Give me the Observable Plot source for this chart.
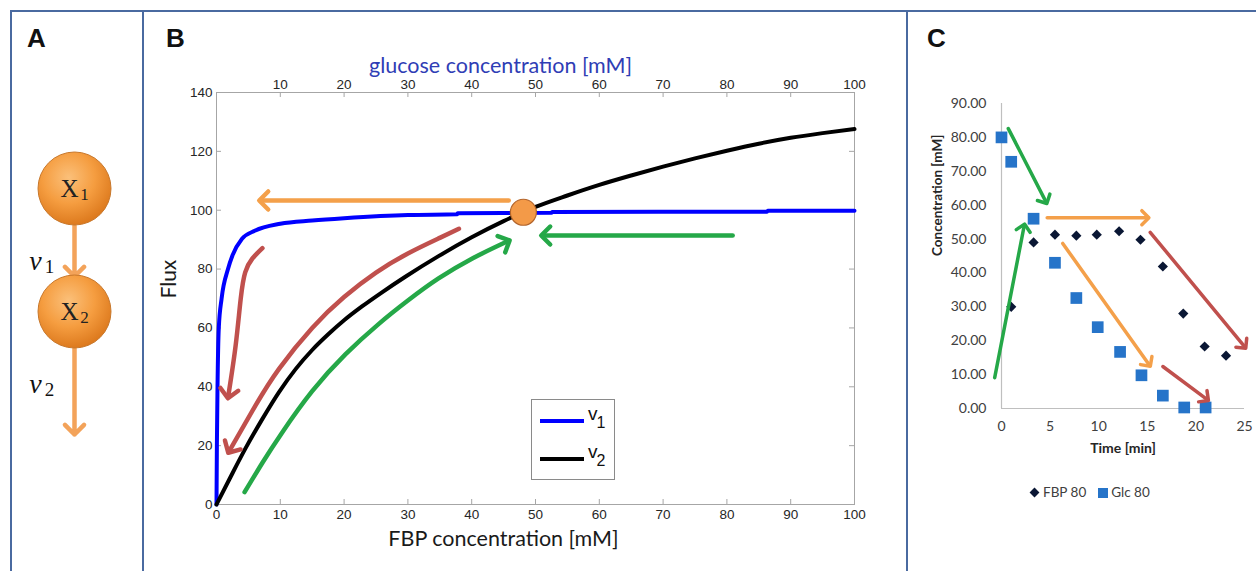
<!DOCTYPE html>
<html><head><meta charset="utf-8">
<script src="https://cdn.jsdelivr.net/npm/d3@7"></script>
<script src="https://cdn.jsdelivr.net/npm/@observablehq/plot@0.6"></script>
<style>
body{margin:0;background:#fff}
#fig{position:relative;width:1256px;height:571px;overflow:hidden;background:#fff;font-family:"Liberation Sans",Arial,sans-serif}
.ln{position:absolute;background:#4a6aa0}
.pl{position:absolute;font-weight:bold;font-size:26px;line-height:26px;color:#111;font-family:"Liberation Sans",Arial,sans-serif}
.panel{position:absolute}
.panel svg{max-width:none}
</style></head><body>
<div id="fig">
 <div class="panel" id="pA" style="left:11px;top:11px;width:132px;height:560px"></div>
 <div class="panel" id="pB" style="left:143px;top:0;width:764px;height:571px"></div>
 <div class="panel" id="pC" style="left:907px;top:0;width:349px;height:571px"></div>
 <div id="legB" style="position:absolute;left:531px;top:399px;width:82px;height:79px;border:1px solid #8a8a8a;background:#fff"></div>
 <div id="legC" style="position:absolute;left:1028px;top:484px;height:18px;font-family:Lato,sans-serif;font-size:13.5px;color:#404040;white-space:nowrap"></div>
 <div class="ln" style="left:10px;top:10px;width:1246px;height:2px"></div>
 <div class="ln" style="left:10px;top:10px;width:2px;height:561px"></div>
 <div class="ln" style="left:142px;top:10px;width:2px;height:561px"></div>
 <div class="ln" style="left:906px;top:10px;width:2px;height:561px"></div>
 <div class="pl" style="left:27px;top:25px">A</div>
 <div class="pl" style="left:166px;top:25px">B</div>
 <div class="pl" style="left:927px;top:25px">C</div>
</div>
<script>
// ---------- Panel A: pathway diagram ----------
const nodeNames = ["X", "X"];
const nodeSubs = ["1", "2"];
const nodeLevels = [1, 2];
const flowNames = ["v", "v"];
const flowSubs = ["1", "2"];
const flowFrom = [1, 2];
const flowTo = [2, 3];

// ---------- Panel B: rate curves ----------
const fbpTicks = [0, 10, 20, 30, 40, 50, 60, 70, 80, 90, 100];
const glcTicks = [10, 20, 30, 40, 50, 60, 70, 80, 90, 100];
const fluxTicks = [0, 20, 40, 60, 80, 100, 120, 140];
const v1X = [0, 0.06, 0.16, 0.36, 0.8, 1.8, 2.5, 4, 6, 10, 15, 20, 30, 37.7, 37.8, 52.5, 52.6, 86.3, 86.4, 100];
const v1Y = [0, 20, 40, 60, 70, 80, 84.6, 90.3, 93, 95.4, 96.5, 97.3, 98.4, 98.6, 99.0, 99.1, 99.4, 99.5, 99.8, 99.8];
const v2X = [0, 2, 4.5, 7.2, 9.8, 12.4, 15, 17.6, 20, 22.8, 26, 29.6, 34.8, 40, 45, 50, 55, 60, 65, 70, 75, 80, 85, 90, 95, 100];
const v2Y = [0, 8.5, 18.9, 29.1, 38.2, 46, 52.5, 58, 62.6, 67.3, 72.2, 77.4, 84.4, 90.8, 96.3, 101.1, 105, 108.6, 111.8, 114.8, 117.6, 120.2, 122.6, 124.6, 126.2, 127.6];
const seriesNames = ["v", "v"];
const seriesSubs = ["1", "2"];
const seriesColors = ["#0000ff", "#000000"];
const steadyX = [48.1];
const steadyY = [99.3];
// annotation arrows (data coordinates)
const orangeArrowX = [45.8, 7.4];
const orangeArrowY = [103.3, 103.3];
const greenArrowX = [80.9, 51.6];
const greenArrowY = [91.4, 91.4];
const greenCurveX = [4.4, 7.2, 10.3, 15, 20.2, 25.4, 30, 34.8, 40.1, 45.3];
const greenCurveY = [4.2, 14.2, 24.5, 38.5, 51, 61.3, 69.3, 76.8, 83.6, 89.1];
const redLongX = [38, 35, 30, 25, 20, 15, 9.8, 6.1, 2.2];
const redLongY = [93.7, 90.6, 85.3, 78.8, 70.5, 60, 46.1, 33.6, 18.9];
const redShortX = [7.2, 5.6, 4.5, 3.8, 3.0, 1.9];
const redShortY = [87.1, 83.5, 78.9, 70, 54, 37.6];

// ---------- Panel C: time course ----------
const timeTicks = [0, 5, 10, 15, 20, 25];
const concTicks = [0, 10, 20, 30, 40, 50, 60, 70, 80, 90];
const glcTime = [0, 1.0, 3.3, 5.5, 7.7, 9.9, 12.2, 14.4, 16.6, 18.8, 21.0];
const glcConc = [80, 72.8, 56, 43, 32.6, 24, 16.7, 9.8, 3.8, 0.3, 0.3];
const fbpTime = [1.0, 3.3, 5.5, 7.7, 9.8, 12.1, 14.3, 16.6, 18.7, 20.9, 23.1];
const fbpConc = [30, 49, 51.3, 51, 51.3, 52.3, 49.8, 41.9, 28, 18.3, 15.6];
const cLegendNames = ["FBP 80", "Glc 80"];
const cGreen1T = [0.7, 4.5], cGreen1C = [82.6, 61.4];
const cGreen2T = [-0.7, 2.3], cGreen2C = [9.1, 53.4];
const cOrange1T = [4.7, 14.8], cOrange1C = [56.3, 56.3];
const cOrange2T = [6.3, 15.1], cOrange2C = [48.7, 13.3];
const cRed1T = [15.3, 24.9], cRed1C = [52, 18.6];
const cRed2T = [16.6, 21.0], cRed2C = [12.4, 3.0];

const ORANGE = "#f4a04a", GREEN = "#25a848", RED = "#c0504d";
const rows = (xs, ys) => xs.map((x, i) => ({x, y: ys[i]}));

// ===== Panel A =====
{
  const nodes = nodeNames.map((n, i) => ({name: n, sub: nodeSubs[i], level: nodeLevels[i]}));
  const flows = flowNames.map((n, i) => ({name: n, sub: flowSubs[i], from: flowFrom[i], to: flowTo[i]}));
  const defs = () => {
    const d = d3.create("svg:defs");
    const g = d.append("radialGradient").attr("id", "ogA").attr("cx", "42%").attr("cy", "35%").attr("r", "65%");
    g.append("stop").attr("offset", "0%").attr("stop-color", "#fbc07a");
    g.append("stop").attr("offset", "55%").attr("stop-color", "#f59d40");
    g.append("stop").attr("offset", "100%").attr("stop-color", "#dd7a1e");
    return d.node();
  };
  const A = Plot.plot({
    width: 132, height: 560, margin: 0,
    x: {domain: [-1, 1], range: [13, 113], axis: null},
    y: {domain: [0, 4], range: [54, 546], axis: null},
    style: {background: "transparent"},
    marks: [
      defs,
      Plot.arrow(flows.filter(f => f.to === 2), {x1: 0, x2: 0, y1: "from", y2: "to", insetStart: 37, insetEnd: 35, stroke: "#f3a35a", strokeWidth: 4.5, headLength: 4.5, headAngle: 90}),
      Plot.arrow(flows.filter(f => f.to === 3), {x1: 0, x2: 0, y1: "from", y2: "to", insetStart: 35, insetEnd: 0, stroke: "#f3a35a", strokeWidth: 4.5, headLength: 4.5, headAngle: 90}),
      Plot.dot(nodes, {x: 0, y: "level", r: 36.5, fill: "url(#ogA)", stroke: "#c8782c", strokeWidth: 1}),
      Plot.text(nodes, {x: 0, y: "level", text: "name", dx: -5, dy: 0, fontFamily: "Liberation Serif, serif", fontSize: 25, fill: "#222"}),
      Plot.text(nodes, {x: 0, y: "level", text: "sub", dx: 10, dy: 6, fontFamily: "Liberation Serif, serif", fontSize: 17, fill: "#222"}),
      Plot.text(flows, {x: 0, y: "from", text: "name", dx: -39, dy: 73, fontFamily: "Liberation Serif, serif", fontStyle: "italic", fontSize: 28, fill: "#111"}),
      Plot.text(flows, {x: 0, y: "from", text: "sub", dx: -25, dy: 78, fontFamily: "Liberation Serif, serif", fontSize: 19, fill: "#111"})
    ]
  });
  document.getElementById("pA").append(A);
}

// ===== Panel B =====
{
  const W = 764, H = 571, mL = 73, mR = 53, mT = 92, mB = 67;
  const iW = W - mL - mR, iH = H - mT - mB;
  const axisCol = "#a6a6a6";
  const tf = {fontSize: 13.5, fontFamily: "Liberation Sans, Arial, sans-serif"};
  const B = Plot.plot({
    width: W, height: H, marginLeft: mL, marginRight: mR, marginTop: mT, marginBottom: mB,
    x: {domain: [0, 100]}, y: {domain: [0, 140]},
    style: {fontFamily: "Liberation Sans, Arial, sans-serif", fontSize: "13.5px", background: "transparent"},
    marks: [
      Plot.frame({stroke: axisCol}),
      Plot.tickX(fbpTicks, {x: d => d, insetTop: iH - 5, stroke: axisCol}),
      Plot.tickX(glcTicks, {x: d => d, insetBottom: iH - 5, stroke: axisCol}),
      Plot.tickY(fluxTicks, {y: d => d, insetRight: iW - 5, stroke: axisCol}),
      Plot.tickY(fluxTicks, {y: d => d, insetLeft: iW - 5, stroke: axisCol}),
      Plot.axisX(fbpTicks, {anchor: "bottom", tickSize: 0, tickPadding: 5, label: null, color: "#262626", ...tf}),
      Plot.axisX(glcTicks, {anchor: "top", tickSize: 0, tickPadding: 4, label: null, color: "#262626", ...tf}),
      Plot.axisY(fluxTicks, {anchor: "left", tickSize: 0, tickPadding: 4, label: null, color: "#262626", ...tf}),
      Plot.text(["FBP concentration [mM]"], {text: d => d, frameAnchor: "bottom", dx: -32, dy: 41, fontFamily: "Lato, sans-serif", fontSize: 21.5, fill: "#1a1a1a"}),
      Plot.text(["glucose concentration [mM]"], {text: d => d, frameAnchor: "top", dx: -35, dy: -35, fontFamily: "Lato, sans-serif", fontSize: 21.5, fill: "#2f3db5"}),
      Plot.text(["Flux"], {text: d => d, frameAnchor: "left", dx: -47, rotate: -90, fontFamily: "Lato, sans-serif", fontSize: 21, fill: "#1a1a1a"}),
      Plot.line(rows(v1X, v1Y), {x: "x", y: "y", stroke: seriesColors[0], strokeWidth: 4, curve: "monotone-x"}),
      Plot.line(rows(v2X, v2Y), {x: "x", y: "y", stroke: seriesColors[1], strokeWidth: 4, curve: "monotone-x"}),
      Plot.line(rows(orangeArrowX, orangeArrowY), {x: "x", y: "y", stroke: ORANGE, strokeWidth: 4.5, markerEnd: "arrow"}),
      Plot.line(rows(greenArrowX, greenArrowY), {x: "x", y: "y", stroke: GREEN, strokeWidth: 4.5, markerEnd: "arrow"}),
      Plot.line(rows(greenCurveX, greenCurveY), {x: "x", y: "y", stroke: GREEN, strokeWidth: 4.5, markerEnd: "arrow", curve: "natural"}),
      Plot.line(rows(redLongX, redLongY), {x: "x", y: "y", stroke: RED, strokeWidth: 4.5, markerEnd: "arrow", curve: "natural"}),
      Plot.line(rows(redShortX, redShortY), {x: "x", y: "y", stroke: RED, strokeWidth: 4.5, markerEnd: "arrow", curve: "natural"}),
      Plot.dot(rows(steadyX, steadyY), {x: "x", y: "y", r: 13, fill: "#f39a48", stroke: "#b3652c", strokeWidth: 1.2})
    ]
  });
  document.getElementById("pB").append(B);

  // legend B (from series arrays)
  const leg = document.getElementById("legB");
  seriesNames.forEach((n, i) => {
    const top = 19 + i * 38;
    const sw = document.createElement("div");
    sw.style.cssText = `position:absolute;left:8px;top:${top}px;width:44px;height:4px;background:${seriesColors[i]}`;
    leg.append(sw);
    const t = document.createElement("div");
    t.style.cssText = `position:absolute;left:56px;top:${top - 15}px;font-family:'Liberation Sans',Arial,sans-serif;font-size:19px;color:#111;line-height:20px`;
    t.innerHTML = `${n}<span style="font-size:16px;position:relative;top:8px;left:-1px">${seriesSubs[i]}</span>`;
    leg.append(t);
  });
}

// ===== Panel C =====
{
  const W = 349, H = 571, mL = 94, mR = 12, mT = 103, mB = 163;
  const axisCol = "#bfbfbf";
  const tf = {fontSize: 14, fontFamily: "Lato, sans-serif"};
  const C = Plot.plot({
    width: W, height: H, marginLeft: mL, marginRight: mR, marginTop: mT, marginBottom: mB,
    x: {domain: [0, 25]}, y: {domain: [0, 90]},
    style: {fontFamily: "Lato, sans-serif", fontSize: "14px", background: "transparent"},
    marks: [
      Plot.ruleX([0], {stroke: axisCol, strokeWidth: 1.2}),
      Plot.ruleY([0], {stroke: axisCol, strokeWidth: 1.2}),
      Plot.axisY(concTicks, {anchor: "left", tickSize: 0, tickPadding: 15, tickFormat: d3.format(".2f"), label: null, color: "#404040", ...tf}),
      Plot.axisX(timeTicks, {anchor: "bottom", tickSize: 0, tickPadding: 13, label: null, color: "#404040", ...tf}),
      Plot.text(["Time [min]"], {text: d => d, frameAnchor: "bottom", dy: 44, fontWeight: "bold", fontSize: 14, fill: "#262626"}),
      Plot.text(["Concentration [mM]"], {text: d => d, frameAnchor: "left", dx: -64, rotate: -90, fontWeight: "bold", fontSize: 13.5, fill: "#262626"}),
      Plot.dot(rows(glcTime, glcConc), {x: "x", y: "y", symbol: "square", r: 6.6, fill: "#2674c9"}),
      Plot.dot(rows(fbpTime, fbpConc), {x: "x", y: "y", symbol: "diamond2", r: 4.6, fill: "#0a1734"}),
      Plot.line(rows(cGreen1T, cGreen1C), {x: "x", y: "y", stroke: GREEN, strokeWidth: 3.5, markerEnd: "arrow"}),
      Plot.line(rows(cGreen2T, cGreen2C), {x: "x", y: "y", stroke: GREEN, strokeWidth: 3.5, markerEnd: "arrow"}),
      Plot.line(rows(cOrange1T, cOrange1C), {x: "x", y: "y", stroke: ORANGE, strokeWidth: 3.5, markerEnd: "arrow"}),
      Plot.line(rows(cOrange2T, cOrange2C), {x: "x", y: "y", stroke: ORANGE, strokeWidth: 3.5, markerEnd: "arrow"}),
      Plot.line(rows(cRed1T, cRed1C), {x: "x", y: "y", stroke: RED, strokeWidth: 3.5, markerEnd: "arrow"}),
      Plot.line(rows(cRed2T, cRed2C), {x: "x", y: "y", stroke: RED, strokeWidth: 3.5, markerEnd: "arrow"})
    ]
  });
  document.getElementById("pC").append(C);

  const lc = document.getElementById("legC");
  lc.innerHTML =
    `<span style="display:inline-block;width:7px;height:7px;background:#0a1734;transform:rotate(45deg);margin:0 5px 1px 3px"></span>${cLegendNames[0]}` +
    `<span style="display:inline-block;width:10px;height:10px;background:#2674c9;margin:0 3px 0 12px;vertical-align:-1px"></span>${cLegendNames[1]}`;
}
</script>
</body></html>
